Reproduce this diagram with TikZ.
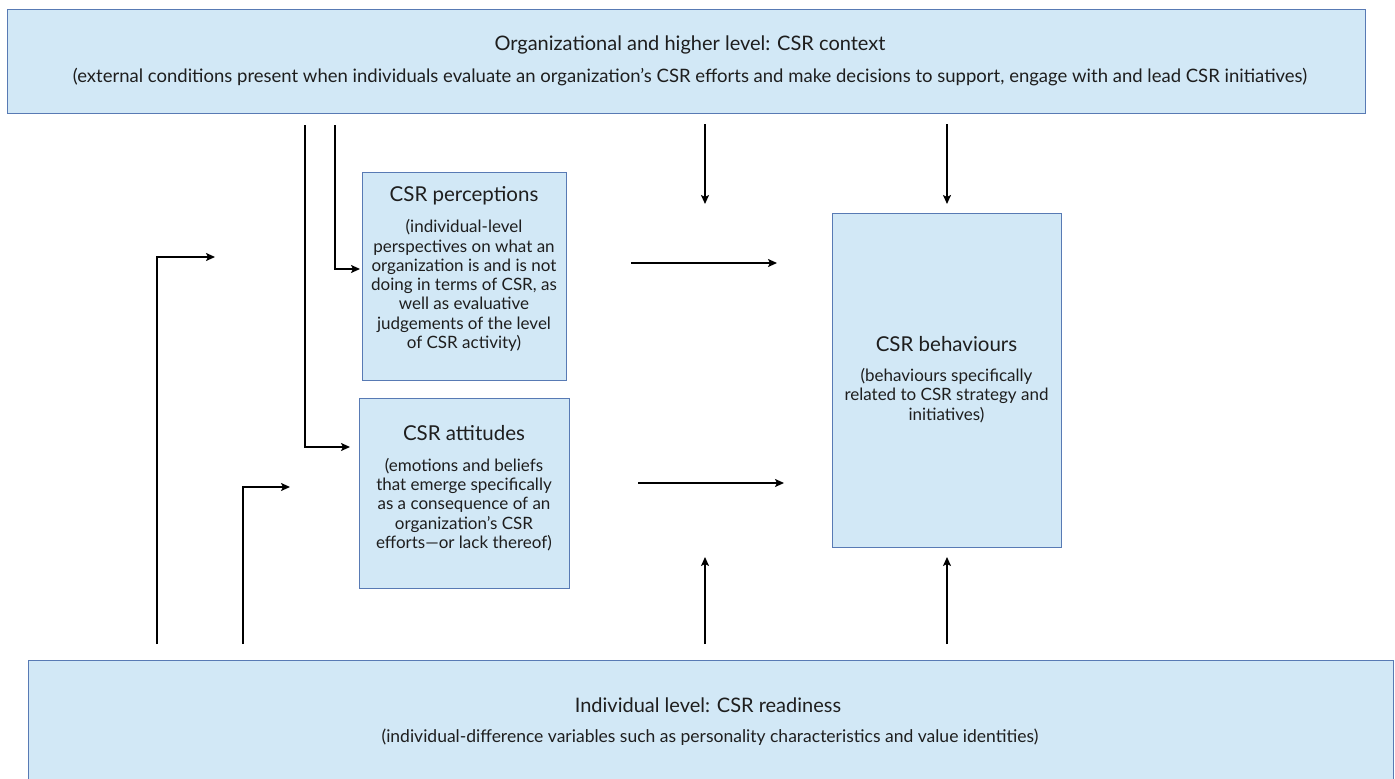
\documentclass[tikz,border=0pt]{standalone}
\usepackage{fontspec}
\setmainfont{Lato}
\usetikzlibrary{arrows.meta}
\definecolor{boxfill}{RGB}{210,232,246}
\definecolor{boxline}{RGB}{88,122,180}
\definecolor{txt}{RGB}{30,30,30}
\begin{document}
\begin{tikzpicture}[x=1pt,y=-1pt,
  box/.style={draw=boxline,fill=boxfill,line width=1.3pt,inner sep=0pt,anchor=north west},
  conn/.style={line width=2.2pt,-{Stealth[length=9pt,width=8pt,inset=2pt]}},
  bigttl/.style={font=\fontsize{20}{24}\selectfont,text=txt,inner sep=0pt},
  bigsub/.style={font=\fontsize{18}{22}\selectfont,text=txt,inner sep=0pt},
  ttl/.style={font=\fontsize{20.5}{24}\selectfont,text=txt,inner sep=0pt},
  body/.style={font=\fontsize{17}{19.3}\selectfont,text=txt,align=center,inner sep=0pt}]
\useasboundingbox (0,0) rectangle (1395,779);

% boxes
\node[box,minimum width=1358pt,minimum height=104pt] (top) at (7,9) {};
\node[box,minimum width=1365pt,minimum height=130pt] (bot) at (28,660) {};
\node[box,minimum width=204pt,minimum height=208pt] (perc) at (362,172) {};
\node[box,minimum width=210pt,minimum height=190pt] (att) at (359,398) {};
\node[box,minimum width=229pt,minimum height=334pt] (beh) at (832,213) {};

% texts
\node[bigttl] (topT) at (690,45) {Organizational and higher level: CSR context};
\node[bigsub,font=\fontsize{18.5}{22}\selectfont] (topS) at (690,77) {(external conditions present when individuals evaluate an organization’s CSR efforts and make decisions to support, engage with and lead CSR initiatives)};
\node[bigttl] (botT) at (708,705) {Individual level: CSR readiness};
\node[bigsub,font=\fontsize{17.5}{22}\selectfont] (botS) at (710,737) {(individual-difference variables such as personality characteristics and value identities)};

\node[ttl] (percT) at (464,196) {CSR perceptions};
\node[body] (percB) at (464,285.5) {(individual-level\\perspectives on what an\\organization is and is not\\doing in terms of CSR, as\\well as evaluative\\judgements of the level\\of CSR activity)};
\node[ttl] (attT) at (464,433) {CSR attitudes};
\node[body] (attB) at (464,504.5) {(emotions and beliefs\\that emerge specifically\\as a consequence of an\\organization’s CSR\\efforts—or lack thereof)};
\node[ttl] (behT) at (946.5,344) {CSR behaviours};
\node[body] (behB) at (946.5,395.5) {(behaviours specifically\\related to CSR strategy and\\initiatives)};

% connector end points
\coordinate (c1s) at (305,125); \coordinate (c1e) at (350,447);
\coordinate (c2s) at (335,125); \coordinate (c2e) at (360,269);
\coordinate (c3s) at (157,644); \coordinate (c3e) at (215,257);
\coordinate (c4s) at (243,644); \coordinate (c4e) at (290,487);
\coordinate (d1s) at (705,124); \coordinate (d1e) at (705,204);
\coordinate (d2s) at (947,124); \coordinate (d2e) at (947,204);
\coordinate (h1s) at (631,263); \coordinate (h1e) at (777,263);
\coordinate (h2s) at (638,483); \coordinate (h2e) at (784,483);
\coordinate (u1s) at (705,644); \coordinate (u1e) at (705,557);
\coordinate (u2s) at (947,644); \coordinate (u2e) at (947,557);

\draw[conn] (c1s) |- (c1e);
\draw[conn] (c2s) |- (c2e);
\draw[conn] (c3s) |- (c3e);
\draw[conn] (c4s) |- (c4e);
\draw[conn] (d1s) -- (d1e);
\draw[conn] (d2s) -- (d2e);
\draw[conn] (h1s) -- (h1e);
\draw[conn] (h2s) -- (h2e);
\draw[conn] (u1s) -- (u1e);
\draw[conn] (u2s) -- (u2e);
\end{tikzpicture}
\end{document}
